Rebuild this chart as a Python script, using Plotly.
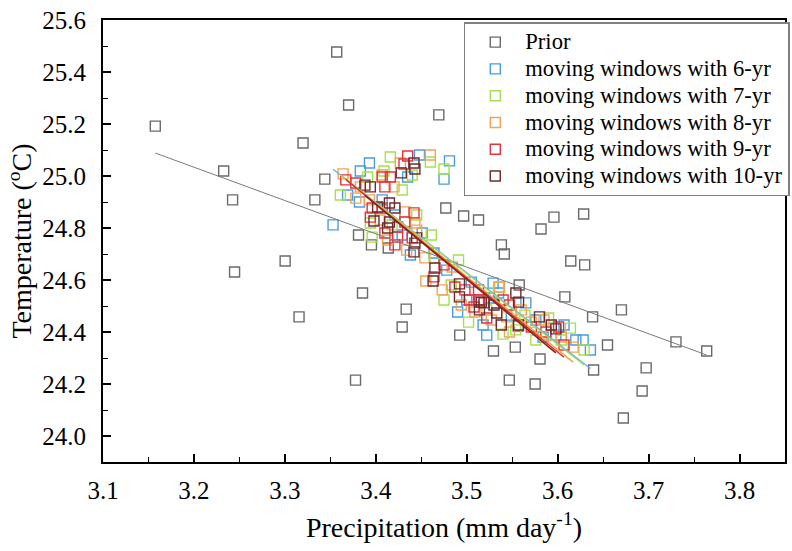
import plotly.graph_objects as go

# ---------------- data ----------------
prior_x = [3.1575, 3.2327, 3.2425, 3.3200, 3.3330, 3.3439, 3.3570, 3.3701, 3.4693, 3.4770,
           3.4966, 3.5130, 3.3810, 3.3952, 3.4137, 3.3003, 3.2447, 3.3854, 3.4334, 3.3156,
           3.4290, 3.4923, 3.3777, 3.5817, 3.5959, 3.6286, 3.5381, 3.5413, 3.6144, 3.6297,
           3.5577, 3.6079, 3.6701, 3.6384, 3.7301, 3.7639, 3.6548, 3.5294, 3.5534, 3.5806,
           3.6395, 3.6973, 3.5468, 3.5752, 3.6929, 3.6722, 3.5566]
prior_y = [25.192, 25.019, 24.908, 25.127, 24.908, 24.988, 25.477, 25.273, 25.235, 24.877,
           24.846, 24.831, 24.773, 24.735, 24.723, 24.673, 24.631, 24.550, 24.488, 24.458,
           24.419, 24.388, 24.215, 24.796, 24.842, 24.854, 24.735, 24.700, 24.673, 24.658,
           24.581, 24.535, 24.485, 24.458, 24.362, 24.327, 24.350, 24.327, 24.342, 24.296,
           24.254, 24.262, 24.215, 24.200, 24.173, 24.069, 24.423]

w6_x = [3.353, 3.369, 3.382, 3.383, 3.393, 3.435, 3.448, 3.475, 3.481, 3.407, 3.421,
        3.451, 3.429, 3.438, 3.464, 3.478, 3.505, 3.529, 3.535, 3.525, 3.500, 3.490,
        3.518, 3.522, 3.549, 3.565, 3.576, 3.584, 3.598, 3.607, 3.620, 3.628, 3.636]
w6_y = [24.812, 24.927, 24.900, 25.019, 25.050, 24.996, 25.081, 24.988, 25.058, 24.908, 24.850,
        24.781, 24.773, 24.696, 24.704, 24.638, 24.592, 24.588, 24.550, 24.531, 24.523, 24.477,
        24.427, 24.388, 24.465, 24.512, 24.446, 24.381, 24.388, 24.427, 24.369, 24.369, 24.331]

w7_x = [3.416, 3.440, 3.460, 3.475, 3.409, 3.391, 3.361, 3.429, 3.394, 3.418, 3.445,
        3.396, 3.461, 3.464, 3.491, 3.483, 3.535, 3.475, 3.522, 3.502, 3.540, 3.554,
        3.564, 3.590, 3.576, 3.604, 3.614, 3.629]
w7_y = [25.073, 25.004, 25.054, 25.027, 25.019, 24.996, 24.927, 24.946, 24.819, 24.812, 24.850,
        24.765, 24.773, 24.685, 24.677, 24.581, 24.573, 24.523, 24.485, 24.438, 24.392, 24.408,
        24.465, 24.454, 24.369, 24.369, 24.415, 24.331]

w8_x = [3.460, 3.427, 3.407, 3.364, 3.383, 3.420, 3.378, 3.393, 3.432, 3.405, 3.443,
        3.445, 3.413, 3.434, 3.454, 3.484, 3.455, 3.473, 3.536, 3.494, 3.509, 3.544,
        3.527, 3.547, 3.560, 3.571, 3.585, 3.593, 3.604, 3.617]
w8_y = [25.081, 25.050, 25.004, 25.008, 24.958, 24.958, 24.915, 24.908, 24.862, 24.831, 24.819,
        24.792, 24.754, 24.715, 24.685, 24.650, 24.596, 24.562, 24.573, 24.504, 24.477, 24.458,
        24.446, 24.400, 24.485, 24.438, 24.446, 24.388, 24.381, 24.342]

w9_x = [3.435, 3.431, 3.407, 3.416, 3.410, 3.367, 3.378, 3.396, 3.407, 3.442, 3.394,
        3.424, 3.432, 3.410, 3.440, 3.424, 3.421, 3.475, 3.464, 3.487, 3.498, 3.513,
        3.503, 3.513, 3.508, 3.514, 3.540, 3.547, 3.522, 3.571, 3.587, 3.601, 3.607]
w9_y = [25.077, 25.046, 24.996, 24.996, 24.958, 24.985, 24.973, 24.877, 24.877, 24.858, 24.842,
        24.804, 24.823, 24.781, 24.762, 24.765, 24.735, 24.658, 24.612, 24.573, 24.562, 24.562,
        24.523, 24.523, 24.496, 24.515, 24.523, 24.504, 24.454, 24.419, 24.400, 24.419, 24.350]

w10_x = [3.442, 3.443, 3.428, 3.394, 3.388, 3.402, 3.415, 3.421, 3.398, 3.415, 3.413,
         3.445, 3.443, 3.442, 3.465, 3.463, 3.492, 3.492, 3.516, 3.514, 3.519, 3.530,
         3.554, 3.557, 3.533, 3.538, 3.557, 3.580, 3.593, 3.598]
w10_y = [25.050, 25.027, 25.012, 24.958, 24.965, 24.881, 24.896, 24.877, 24.827, 24.823, 24.800,
         24.762, 24.742, 24.708, 24.646, 24.596, 24.585, 24.535, 24.515, 24.485, 24.512, 24.504,
         24.550, 24.515, 24.473, 24.427, 24.427, 24.458, 24.427, 24.412]

# linear fits drawn in the reference (slope, intercept)
fit_slope = [-1.281, -2.708, -2.726, -2.812, -2.849, -2.883]
fit_intercept = [29.133, 34.106, 34.166, 34.455, 34.579, 34.693]

names = ["Prior", "moving windows with 6-yr", "moving windows with 7-yr",
         "moving windows with 8-yr", "moving windows with 9-yr", "moving windows with 10-yr"]
marker_colors = ["#6a6a6a", "#4a9ee0", "#a6e04c", "#f0a45a", "#e2343e", "#6b2b2f"]
line_colors = ["#7a7a7a", "#5fb0e8", "#a8dc50", "#e8a83c", "#d42a2a", "#8a2020"]
line_widths = [1.0, 1.2, 1.2, 1.4, 1.4, 1.6]

xs = [prior_x, w6_x, w7_x, w8_x, w9_x, w10_x]
ys = [prior_y, w6_y, w7_y, w8_y, w9_y, w10_y]

FONT = "Liberation Serif"

fig = go.Figure()
for i in range(6):
    fig.add_trace(go.Scatter(
        x=xs[i], y=ys[i], mode="markers",
        name='<span style="font-size:22.6px">' + names[i] + '</span>',
        marker=dict(symbol="square-open", size=10, color=marker_colors[i],
                    line=dict(width=1.4, color=marker_colors[i])),
    ))

for i in range(6):
    x0, x1 = min(xs[i]), max(xs[i])
    fig.add_trace(go.Scatter(
        x=[x0, x1], y=[fit_intercept[i] + fit_slope[i] * x0, fit_intercept[i] + fit_slope[i] * x1],
        mode="lines", showlegend=False, hoverinfo="skip",
        line=dict(color=line_colors[i], width=line_widths[i]),
    ))

axis_common = dict(
    showline=True, linecolor="black", linewidth=2, mirror=True,
    ticks="inside", ticklen=8, tickwidth=1.5, tickcolor="black",
    showgrid=False, zeroline=False,
    tickfont=dict(family=FONT, size=25, color="black"),
    tickformat=".1f",
)

fig.update_xaxes(range=[3.1, 3.85], tick0=3.1, dtick=0.1, ticklabelstandoff=5,
                 minor=dict(ticks="inside", ticklen=5, tickwidth=1.2, tickcolor="black", dtick=0.05, showgrid=False),
                 title=dict(text="Precipitation (mm day<sup>-1</sup>)", font=dict(family=FONT, size=28, color="black"), standoff=14),
                 **axis_common)
fig.update_yaxes(range=[23.9, 25.6], tick0=24.0, dtick=0.2, ticklabelstandoff=10,
                 minor=dict(ticks="inside", ticklen=5, tickwidth=1.2, tickcolor="black", dtick=0.1, showgrid=False),
                 title=dict(text="Temperature (<sup>o</sup>C)", font=dict(family=FONT, size=28, color="black"), standoff=2),
                 **axis_common)

fig.update_layout(
    width=792, height=551,
    margin=dict(l=103, r=2, t=20, b=89),
    plot_bgcolor="white", paper_bgcolor="white",
    font=dict(family=FONT, color="black"),
    legend=dict(x=0.529, y=0.995, xanchor="left", yanchor="top",
                bgcolor="white", bordercolor="#808080", borderwidth=1.5,
                font=dict(family=FONT, size=18.3, color="black"),
                itemwidth=50, tracegroupgap=0),
)

fig.write_html("out.html")
